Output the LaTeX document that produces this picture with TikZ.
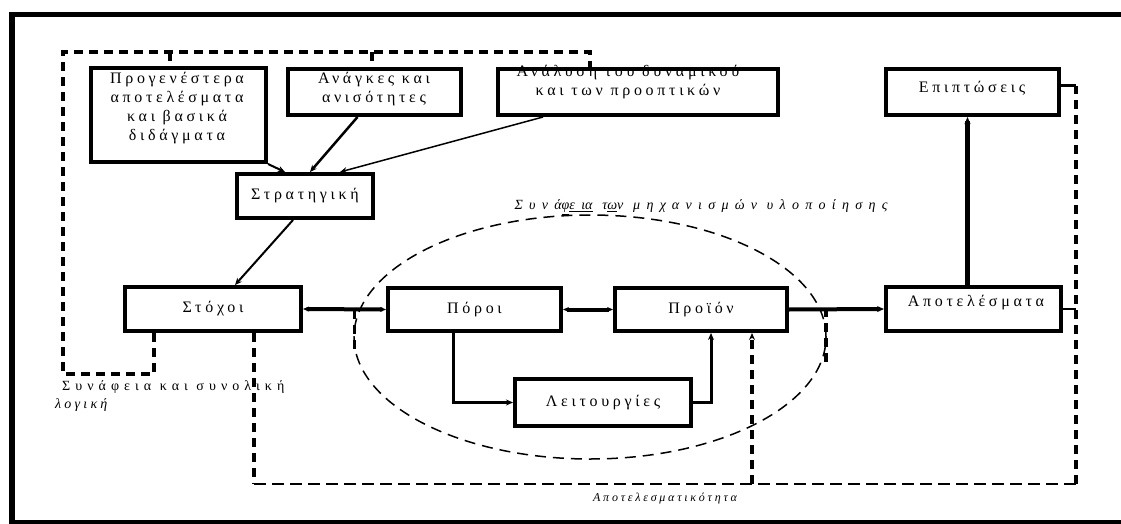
\documentclass[tikz,border=0pt]{standalone}
\usepackage{fontspec}
\setmainfont{Liberation Serif}[LetterSpace=23]
\usetikzlibrary{arrows.meta,calc,shapes.geometric}
\newcommand{\bxfont}{\fontsize{16}{19}\selectfont}
\begin{document}
\begin{tikzpicture}[x=1pt,y=-1pt,
  box/.style={draw,line width=4pt,inner sep=0pt,align=center,font=\bxfont},
  txt/.style={inner sep=0pt,align=center,font=\bxfont},
  conn/.style={line width=2pt},
  thk/.style={line width=4pt},
  tip/.style={-{Stealth[length=7pt,width=6pt]}},
  dtips/.style={{Stealth[length=6pt,width=5pt]}-{Stealth[length=6pt,width=5pt]}},
  dthick/.style={line width=3.5pt,dash pattern=on 9pt off 6pt},
  dthin/.style={line width=2pt,dash pattern=on 12pt off 6pt},
  elldash/.style={line width=1.5pt,dash pattern=on 11pt off 7pt}]
\useasboundingbox (0,0) rectangle (1121,524);
\fill[white] (0,0) rectangle (1121,524);
\draw[line width=5.5pt] (12,14.5) rectangle (1140,522.5);

% boxes
\node[box,minimum width=175pt,minimum height=94pt] (b1) at (178.5,115) {};
\node[txt] (b1t) at (177,108.5) {Προγενέστερα\\αποτελέσματα\\και βασικά\\διδάγματα};
\node[box,minimum width=173pt,minimum height=46pt] (b2) at (374.5,92) {};
\node[txt] (b2t) at (374,89) {Ανάγκες και\\ανισότητες};
\node[box,minimum width=280pt,minimum height=46pt] (b3) at (638,92) {};
\node[txt] (b3t) at (628,82) {Ανάλυση του δυναμικού\\και των προοπτικών};
\node[box,minimum width=173pt,minimum height=46pt] (b4) at (972.5,92) {};
\node[txt] (b4t) at (972,88) {Επιπτώσεις};
\node[box,minimum width=136pt,minimum height=44pt] (strat) at (305,196) {Στρατηγική};
\node[box,minimum width=176pt,minimum height=44pt] (stochoi) at (213,309) {Στόχοι};
\node[box,minimum width=173pt,minimum height=43pt] (poroi) at (474.5,309.5) {Πόροι};
\node[box,minimum width=172pt,minimum height=43pt] (proion) at (701,309.5) {Προϊόν};
\node[box,minimum width=176pt,minimum height=47pt] (leit) at (603,402.5) {Λειτουργίες};
\node[box,minimum width=175pt,minimum height=44pt] (apot) at (973.5,309) {};
\node[txt] (apott) at (976,303) {Αποτελέσματα};

% ellipse
\node[draw,elldash,ellipse,inner sep=0pt,minimum width=472pt,minimum height=244pt] (ell) at (590,337) {};
\draw[dthick] ($(ell.west)+(1,-27)$) -- ($(ell.west)+(1,15)$);
\draw[dthick] ($(ell.east)+(-1,-29)$) -- ($(ell.east)+(-1,28)$);

% solid connectors
\draw[conn,tip] (b1.south east) -- ($(strat.north west)+(50,0)$);
\draw[line width=2.5pt,tip] ($(b2.south)+(-17,0)$) -- ($(strat.north)+(5,0)$);
\draw[line width=1.5pt,tip] ($(b3.south west)+(47,0)$) -- ($(strat.north)+(35,0)$);
\draw[conn,tip] ($(strat.south)+(-12,0)$) -- ($(stochoi.north)+(22,0)$);
\draw[thk,dtips] (stochoi.east) -- (poroi.west);
\draw[thk,dtips] (poroi.east) -- (proion.west);
\draw[line width=3pt,tip] ($(poroi.south)+(-21,0)$) |- (leit.west);
\draw[line width=3pt,tip] (leit.east) -| ($(proion.south)+(10,0)$);
\draw[thk,tip] (proion.east) -- (apot.west);
\draw[line width=5pt,tip] ($(apot.north)+(-6,0)$) -- ($(b4.south)+(-5,0)$);

% top dashed loop
\coordinate (t1) at (154,374);
\coordinate (t2) at (63,374);
\coordinate (t3) at (63,52);
\coordinate (t4) at (590,52);
\draw[dthick] ($(stochoi.south west)+(31,0)$) -- (t1) -- (t2) -- (t3) -- (t4) -- (t4 |- b3.north);
\coordinate (t5) at (170,52);
\coordinate (t6) at (372,52);
\draw[dthick] (t5) -- (t5 |- b1.north);
\draw[dthick] (t6) -- (t6 |- b2.north);

% bottom dashed loop
\coordinate (u1) at (254,484);
\coordinate (u2) at (1076,484);
\coordinate (u3) at (1076,86);
\coordinate (u4) at (752,484);
\draw[dthick] (u1 |- stochoi.south) -- (u1);
\draw[dthin] (u1) -- (u2);
\draw[dthick] (u2) -- (u3);
\draw[line width=3pt] (u3) -- (u3 -| b4.east);
\draw[line width=1.2pt] (apot.east) -- (apot.east -| u2);
\draw[dthick,tip] (u4) -- (u4 |- proion.south);

% labels
\node[font=\fontsize{14}{16}\selectfont\itshape\addfontfeatures{LetterSpace=45},inner sep=0pt] (lab1) at (701,207) {Συνά\underline{φ}\underline{ει}\underline{α} τ\underline{ω}ν μηχανισμών υλοποίησης};
\node[font=\fontsize{14}{16}\selectfont\addfontfeatures{LetterSpace=36},inner sep=0pt,anchor=west] (lab2) at (62,387) {Συνάφεια και συνολική};
\node[font=\fontsize{14}{16}\selectfont\itshape,inner sep=0pt,anchor=west] (lab3) at (55,405) {λογική};
\node[font=\fontsize{12}{14}\selectfont\itshape,inner sep=0pt] (lab4) at (665,499) {Αποτελεσματικότητα};
\end{tikzpicture}
\end{document}
